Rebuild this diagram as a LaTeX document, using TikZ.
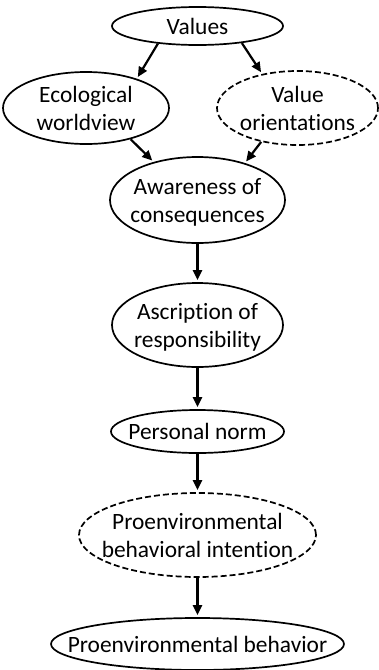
\documentclass[tikz,border=0pt]{standalone}
\usepackage{fontspec}
\setmainfont{Carlito}[Ligatures={NoCommon}]
\usetikzlibrary{shapes.geometric,arrows.meta}
\newcommand{\ovtext}[1]{\makebox[0pt]{\raisebox{0pt}[\dimexpr\height+5pt\relax][\depth]{\begin{tabular}{@{}c@{}}#1\end{tabular}}}}
\begin{document}
\begin{tikzpicture}[x=1pt,y=-1pt,
  oval/.style={ellipse, draw, line width=1.7pt, inner xsep=0pt, inner ysep=-8pt, font=\fontsize{23.4}{28}\selectfont},
  dashedoval/.style={oval, dash pattern=on 6pt off 3pt},
  arr/.style={line width=2.2pt, -{Triangle[length=10pt,width=9pt]}, shorten >=2pt}]
\fill[white] (0,0) rectangle (379,670);
\useasboundingbox (0,0) rectangle (379,670);
\node[oval, minimum width=171pt, minimum height=38pt] (val) at (197.5,26) {\ovtext{Values}};
\node[oval, minimum width=166pt, minimum height=72pt] (eco) at (86,108) {\ovtext{Ecological\\worldview}};
\node[dashedoval, minimum width=161pt, minimum height=74pt] (vo) at (297.5,108) {\ovtext{Value\\orientations}};
\node[oval, minimum width=175pt, minimum height=86pt] (awa) at (197.5,200) {\ovtext{Awareness of\\consequences}};
\node[oval, minimum width=171pt, minimum height=84pt] (asc) at (197.5,325) {\ovtext{Ascription of\\responsibility}};
\node[oval, minimum width=173pt, minimum height=43pt] (pn) at (197.5,431.5) {\ovtext{Personal norm}};
\node[dashedoval, minimum width=237pt, minimum height=84pt] (int) at (197.5,535) {\ovtext{Proenvironmental\\behavioral intention}};
\node[oval, minimum width=293pt, minimum height=52pt] (beh) at (197.5,644) {\ovtext{Proenvironmental behavior}};
\draw[arr] (val.204) -- (eco.30);
\draw[arr] (val.339) -- (vo.136);
\draw[arr] (eco.325) -- (awa.139);
\draw[arr] (vo.223) -- (awa.38);
\draw[arr] (awa.south) -- (asc.north);
\draw[arr] (asc.south) -- (pn.north);
\draw[arr] (pn.south) -- (int.north);
\draw[arr] (int.south) -- (beh.north);
\end{tikzpicture}
\end{document}
